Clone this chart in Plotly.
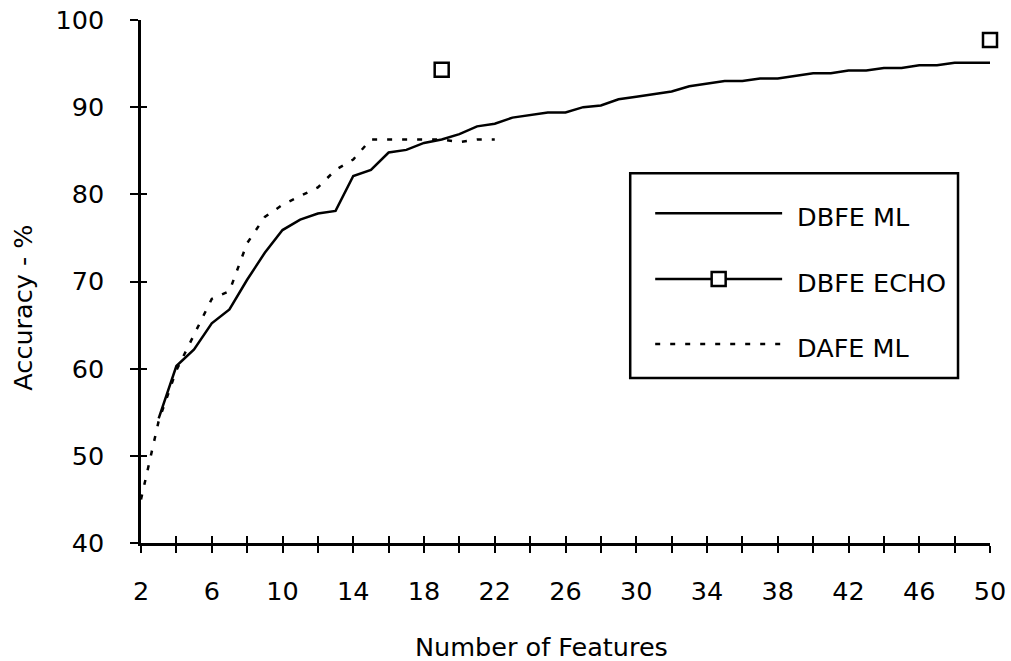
import plotly.graph_objects as go

# ---- data -------------------------------------------------------------
dbfe_ml_x = list(range(3, 51))
dbfe_ml_y = [54.3, 60.3, 62.2, 65.2, 66.8, 70.2, 73.3, 75.9, 77.1, 77.8,
             78.1, 82.1, 82.8, 84.8, 85.1, 85.9, 86.3, 86.9, 87.8, 88.1,
             88.8, 89.1, 89.4, 89.4, 90.0, 90.2, 90.9, 91.2, 91.5, 91.8,
             92.4, 92.7, 93.0, 93.0, 93.3, 93.3, 93.6, 93.9, 93.9, 94.2,
             94.2, 94.5, 94.5, 94.8, 94.8, 95.1, 95.1, 95.1]

dafe_ml_x = list(range(2, 23))
dafe_ml_y = [45.0, 54.0, 59.8, 63.9, 68.0, 68.9, 74.4, 77.4, 78.8, 79.8,
             80.8, 82.8, 84.0, 86.3, 86.3, 86.3, 86.3, 86.3, 86.0, 86.3,
             86.3]

dbfe_echo_x = [19, 50]
dbfe_echo_y = [94.3, 97.7]

x_ticks = list(range(2, 51, 2))
x_tick_labels = [str(v) if (v - 2) % 4 == 0 else "" for v in x_ticks]
y_ticks = [40, 50, 60, 70, 80, 90, 100]

legend_labels = ["DBFE ML", "DBFE ECHO", "DAFE ML"]

# ---- geometry ---------------------------------------------------------
W, H = 1011, 661
ML, MR, MT, MB = 140.5, 21, 19.5, 117.7
FONT = "DejaVu Sans, Verdana, sans-serif"
FS = 25.5


def px(xpix):
    return (xpix - ML) / (W - ML - MR)


def py(ypix):
    return (H - MB - ypix) / (H - MT - MB)


fig = go.Figure()

fig.add_trace(go.Scatter(
    x=dbfe_ml_x, y=dbfe_ml_y, mode="lines", name=legend_labels[0],
    line=dict(color="black", width=2.5), showlegend=False))

fig.add_trace(go.Scatter(
    x=dafe_ml_x, y=dafe_ml_y, mode="lines", name=legend_labels[2],
    line=dict(color="black", width=2.5, dash="5px,10px"), showlegend=False))

fig.add_trace(go.Scatter(
    x=dbfe_echo_x, y=dbfe_echo_y, mode="markers", name=legend_labels[1],
    marker=dict(symbol="square", size=14, color="white",
                line=dict(color="black", width=2.5)),
    cliponaxis=False, showlegend=False))

# placeholder trace on the overlay axes that draw the inner half of the
# crossing tick marks
fig.add_trace(go.Scatter(x=[None], y=[None], xaxis="x2", yaxis="y2",
                         mode="lines", showlegend=False, hoverinfo="skip"))

axis_common = dict(showgrid=False, zeroline=False, color="black",
                   automargin=False,
                   tickfont=dict(family=FONT, size=FS, color="black"))
overlay_common = dict(showticklabels=False, showline=False, showgrid=False,
                      zeroline=False, automargin=False, tickmode="array",
                      ticks="inside", tickwidth=2, tickcolor="black")

fig.update_layout(
    template="none",
    width=W, height=H,
    margin=dict(l=ML, r=MR, t=MT, b=MB, pad=0),
    paper_bgcolor="white", plot_bgcolor="white",
    font=dict(family=FONT, size=FS, color="black"),
    xaxis=dict(range=[2, 50], tickmode="array", tickvals=x_ticks,
               ticktext=x_tick_labels, ticks="outside", ticklen=7,
               tickwidth=2, tickcolor="black", showline=True,
               linecolor="black", linewidth=2.5, ticklabelstandoff=17,
               **axis_common),
    yaxis=dict(range=[40, 100], tickmode="array", tickvals=y_ticks,
               ticks="outside", ticklen=8, tickwidth=2, tickcolor="black",
               showline=True, linecolor="black", linewidth=2.5,
               ticklabelstandoff=21, **axis_common),
    xaxis2=dict(range=[2, 50], overlaying="x", anchor="y2", side="bottom",
                tickvals=x_ticks, ticklen=7, **overlay_common),
    yaxis2=dict(range=[40, 100], overlaying="y", anchor="x2", side="left",
                tickvals=y_ticks, ticklen=6, **overlay_common),
    showlegend=False,
)

# axis titles
fig.add_annotation(text="Number of Features", xref="paper", yref="paper",
                   x=px(541), y=py(647), xanchor="center", yanchor="middle",
                   showarrow=False,
                   font=dict(family=FONT, size=FS, color="black"))
fig.add_annotation(text="Accuracy - %", xref="paper", yref="paper",
                   x=px(22), y=py(308), xanchor="center", yanchor="middle",
                   textangle=-90, showarrow=False,
                   font=dict(family=FONT, size=FS, color="black"))

# ---- legend box -------------------------------------------------------
box_l, box_r, box_t, box_b = 630, 958, 173, 378
fig.add_shape(type="rect", xref="paper", yref="paper",
              x0=px(box_l), x1=px(box_r), y0=py(box_b), y1=py(box_t),
              line=dict(color="black", width=2.5), fillcolor="white",
              layer="above")

row_y = [217, 283, 348]
line_x0, line_x1, text_x = 655, 782, 795
dashes = [None, None, "5px,10px"]
for label, yy, dash in zip(legend_labels, row_y, dashes):
    fig.add_shape(type="line", xref="paper", yref="paper",
                  x0=px(line_x0), x1=px(line_x1), y0=py(yy - 4), y1=py(yy - 4),
                  line=dict(color="black", width=2.5, dash=dash),
                  layer="above")
    fig.add_annotation(text=label, xref="paper", yref="paper",
                       x=px(text_x), y=py(yy), xanchor="left",
                       yanchor="middle", showarrow=False,
                       font=dict(family=FONT, size=FS, color="black"))

# square marker on the DBFE ECHO legend sample
fig.add_shape(type="rect", xref="paper", yref="paper",
              xsizemode="pixel", ysizemode="pixel",
              xanchor=px((line_x0 + line_x1) / 2), yanchor=py(row_y[1] - 4),
              x0=-7, x1=7, y0=-7, y1=7,
              line=dict(color="black", width=2.5), fillcolor="white",
              layer="above")

fig.write_html("out.html")
